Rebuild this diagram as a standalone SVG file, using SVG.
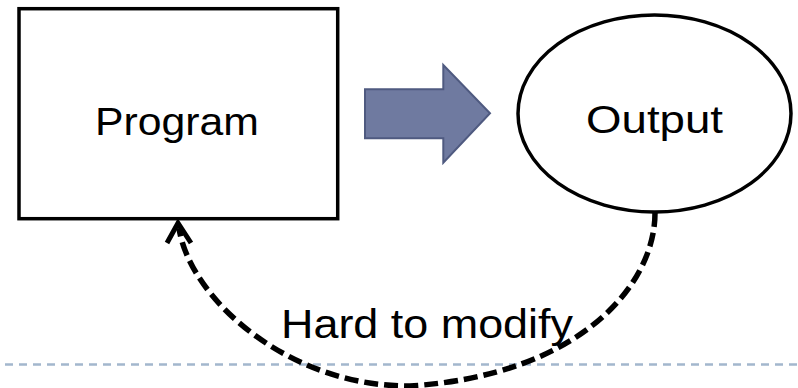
<svg xmlns="http://www.w3.org/2000/svg" width="798" height="388" viewBox="0 0 798 388">
  <style>
    .label { font-family: "Liberation Sans", "Noto Sans CJK JP", sans-serif; fill: #000; }
    .shape { fill: #fff; stroke: #000; stroke-width: 3.5; }
    .feedback { fill: none; stroke: #000; stroke-width: 5.5; stroke-dasharray: 14 6; }
    .arrowhead { fill: none; stroke: #000; stroke-width: 5; stroke-linejoin: miter; }
  </style>
  <rect width="798" height="388" fill="#fff"/>

  <!-- footer rule -->
  <line x1="5" y1="364.5" x2="798" y2="364.5" stroke="#A3B7CD" stroke-width="2.5" stroke-dasharray="8 6"/>

  <g id="program">
    <rect class="shape" x="19" y="8.7" width="318.7" height="210"/>
    <text class="label" x="95" y="135" font-size="38" textLength="164" lengthAdjust="spacingAndGlyphs">Program</text>
  </g>

  <g id="output">
    <ellipse class="shape" cx="654.5" cy="113.5" rx="136.5" ry="98.5"/>
    <text class="label" x="586" y="133" font-size="39" textLength="137" lengthAdjust="spacingAndGlyphs">Output</text>
  </g>

  <g id="connectors">
    <!-- block arrow: Program -> Output -->
    <polygon points="365,89.3 443.3,89.3 443.3,65 490,113.3 443.3,162.7 443.3,138.3 365,138.3" fill="#6F7AA0" stroke="#4F5A80" stroke-width="2"/>
    <!-- dashed feedback: Output -> Program -->
    <path class="feedback" d="M655,213 C655,285 580,375 410,386 C290,387 190,300 179,228"/>
    <polyline class="arrowhead" points="167,243 178,223 191,243"/>
    <text class="label" x="281" y="338" font-size="41" textLength="292" lengthAdjust="spacingAndGlyphs">Hard to modify</text>
  </g>
</svg>
